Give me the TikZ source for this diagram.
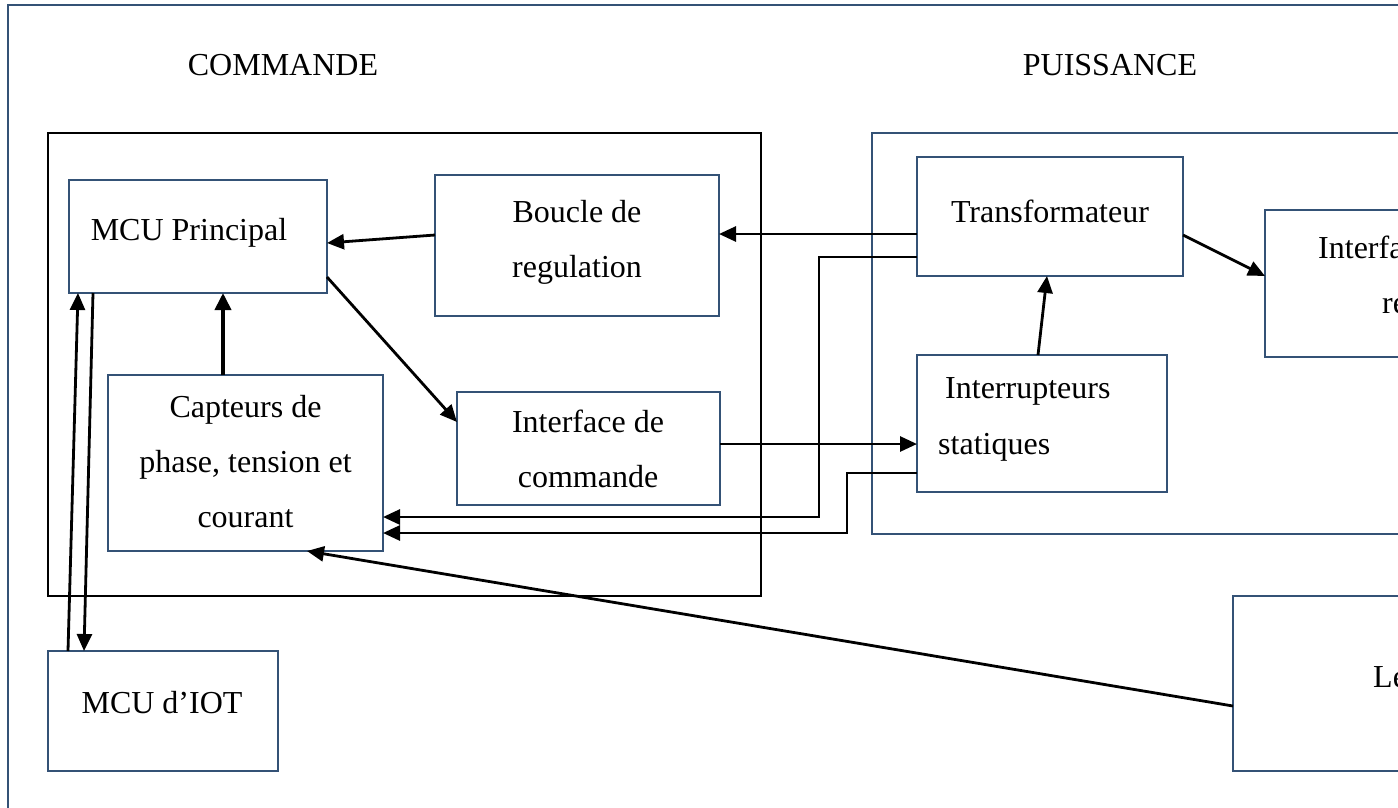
\documentclass[tikz,border=0pt]{standalone}
\usepackage{fontspec}
\setmainfont{Liberation Serif}
\usetikzlibrary{arrows.meta,calc}
\definecolor{boxblue}{RGB}{52,82,118}
\begin{document}
\begin{tikzpicture}[x=1pt,y=-1pt,
  bx/.style={draw=boxblue,line width=2.7pt,inner sep=0pt,outer sep=0pt},
  blk/.style={draw=black,line width=2.7pt,inner sep=0pt,outer sep=0pt},
  txt/.style={anchor=base,inner sep=0pt,font=\fontsize{32}{55}\selectfont},
  txtw/.style={anchor=base west,inner sep=0pt,font=\fontsize{32}{55}\selectfont},
  conn/.style={draw=black,line width=2.8pt},
  arr/.style={conn,-{Triangle[length=17pt,width=15pt]}}]
\useasboundingbox (0,0) rectangle (1398,807);
\clip (0,0) rectangle (1398,807);
% frames and boxes
\node[bx,minimum width=1492pt,minimum height=895pt] (frame) at (754,452.5) {};
\node[blk,minimum width=713pt,minimum height=463pt] (cmd) at (404.5,364.5) {};
\node[bx,minimum width=728pt,minimum height=401pt] (pui) at (1236,333.5) {};
\node[bx,minimum width=258pt,minimum height=113pt] (mcu) at (198,236.5) {};
\node[bx,minimum width=284pt,minimum height=141pt] (boucle) at (577,245.5) {};
\node[bx,minimum width=275pt,minimum height=176pt] (capt) at (245.5,463) {};
\node[bx,minimum width=263pt,minimum height=113pt] (ifc) at (588.5,448.5) {};
\node[bx,minimum width=266pt,minimum height=119pt] (trans) at (1050,216.5) {};
\node[bx,minimum width=250pt,minimum height=137pt] (inter) at (1042,423.5) {};
\node[bx,minimum width=318pt,minimum height=147pt] (ifr) at (1424,283.5) {};
\node[bx,minimum width=407pt,minimum height=175pt] (le) at (1436.5,683.5) {};
\node[bx,minimum width=230pt,minimum height=120pt] (iot) at (163,711) {};
% texts
\node[txt] (tcmd) at (283,75) {COMMANDE};
\node[txt] (tpui) at (1110,75) {PUISSANCE};
\node[txt] (tmcu) at (189,240) {MCU Principal};
\node[txt] (tb1) at (577,222) {Boucle de};
\node[txt] (tb2) at (577,277) {regulation};
\node[txt] (tc1) at (245.5,417) {Capteurs de};
\node[txt] (tc2) at (245.5,472) {phase, tension et};
\node[txt] (tc3) at (245.5,527) {courant};
\node[txt] (ti1) at (588,432) {Interface de};
\node[txt] (ti2) at (588,487) {commande};
\node[txt] (ttr) at (1050,222) {Transformateur};
\node[txtw] (tin1) at (945,398) {Interrupteurs};
\node[txtw] (tin2) at (938,454) {statiques};
\node[txtw] (tr1) at (1318,258) {Interface avec le};
\node[txtw] (tr2) at (1382,313) {reseau};
\node[txtw] (tle) at (1373,687) {Le reseau};
\node[txt] (tiot) at (162,713) {MCU d’IOT};
% connectors
\draw[arr] (boucle.west |- 0,235) -- (mcu.east |- 0,243);
\draw[arr] (mcu.east |- 0,277) -- (ifc.west |- 0,422);
\draw[arr] (ifc.east |- 0,444) -- (inter.west |- 0,444);
\draw[arr] (inter.north -| 1038,0) -- (trans.south -| 1047,0);
\draw[arr] (trans.east |- 0,235) -- (ifr.west |- 0,276);
\draw[arr] (trans.west |- 0,234) -- (boucle.east |- 0,234);
\draw[arr] (trans.west |- 0,257) -| (819,517) -- (capt.east |- 0,517);
\draw[arr] (inter.west |- 0,473) -| (847,533) -- (capt.east |- 0,533);
\draw[arr] (le.west |- 0,706) -- (capt.south -| 307,0);
\draw[conn,line width=3.8pt,-{Triangle[length=17pt,width=16pt]}] (capt.north -| 223,0) -- (mcu.south -| 223,0);
\draw[arr] (iot.north -| 68,0) -- (mcu.south -| 78,0);
\draw[arr] (mcu.south -| 93,0) -- (iot.north -| 84,0);
\end{tikzpicture}
\end{document}
